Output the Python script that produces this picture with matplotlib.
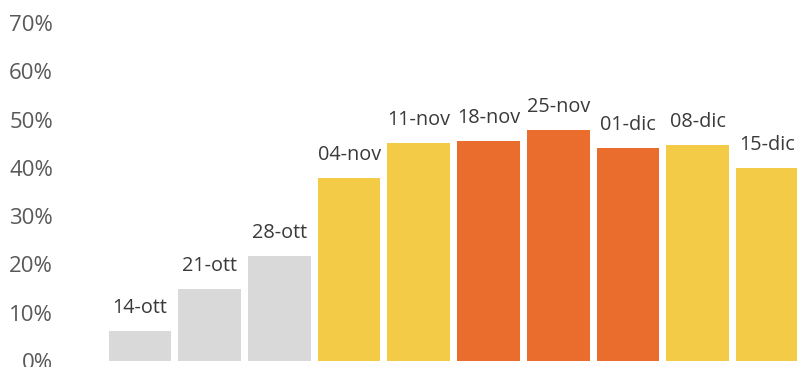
import matplotlib.pyplot as plt
from matplotlib.ticker import PercentFormatter

# dati
settimane = ['14-ott', '21-ott', '28-ott', '04-nov', '11-nov', '18-nov',
             '25-nov', '01-dic', '08-dic', '15-dic']
valori = [0.063, 0.149, 0.218, 0.378, 0.452, 0.455, 0.478, 0.442, 0.447, 0.400]
colori = ['#D9D9D9', '#D9D9D9', '#D9D9D9', '#F4CB46', '#F4CB46', '#EA6D2D',
          '#EA6D2D', '#EA6D2D', '#F4CB46', '#F4CB46']

plt.rcParams['font.family'] = ['Open Sans', 'DejaVu Sans']

fig = plt.figure(figsize=(7.97, 3.67), dpi=100)
ax = fig.add_axes([60 / 797, 6 / 367, 737 / 797, 338 / 367])

x = range(len(settimane))
ax.bar(x, valori, width=0.9, color=colori)

for i, (v, lab) in enumerate(zip(valori, settimane)):
    ax.annotate(lab, (i, v), xytext=(0, 13), textcoords='offset points',
                ha='center', va='baseline', fontsize=14.3, color='#3A3A3A')

ax.set_ylim(0, 0.7)
ax.set_xlim((60 - 140) / 69.7, (797 - 140) / 69.7)
ax.set_yticks([0, 0.1, 0.2, 0.3, 0.4, 0.5, 0.6, 0.7])
ax.yaxis.set_major_formatter(PercentFormatter(1.0, decimals=0))
ax.tick_params(axis='y', length=0, labelsize=16, labelcolor='#595959', pad=5)
ax.set_xticks([])
for s in ax.spines.values():
    s.set_visible(False)

fig.savefig('out.png', dpi=100)
